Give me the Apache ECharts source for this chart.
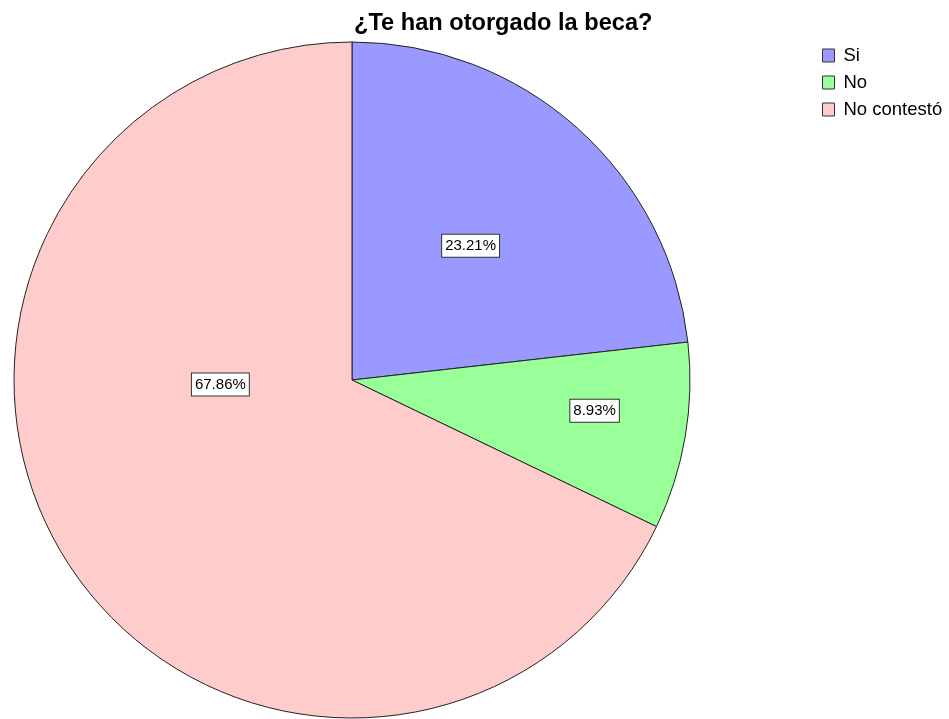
<!DOCTYPE html>
<html>
<head>
<meta charset="utf-8">
<script src="https://cdn.jsdelivr.net/npm/echarts@6/dist/echarts.min.js"></script>
<style>
  html, body { margin: 0; padding: 0; background: #fff; }
  #chart { width: 949px; height: 719px; }
</style>
</head>
<body>
<div id="chart"></div>
<script>
// Data
const categories = ["Si", "No", "No contestó"];
const percents = [23.21, 8.93, 67.86];
const colors = ["#9999ff", "#99ff99", "#ffcccc"];
// label nudges (px) from the default inside position
const labelShift = [[4, -6], [73, 2], [14, -87]];

var myChart = echarts.init(document.getElementById("chart"));

myChart.setOption({
  animation: false,
  title: {
    text: "¿Te han otorgado la beca?",
    left: 349,
    top: 6,
    textStyle: {
      fontFamily: "Liberation Sans, Arial, sans-serif",
      fontSize: 23.6,
      fontWeight: "bold",
      color: "#000"
    }
  },
  legend: {
    orient: "vertical",
    left: 817,
    top: 41,
    icon: "rect",
    itemWidth: 12,
    itemHeight: 13,
    itemGap: 8,
    data: categories,
    itemStyle: { borderColor: "#333", borderWidth: 1 },
    textStyle: {
      fontFamily: "Liberation Sans, Arial, sans-serif",
      fontSize: 18.5,
      lineHeight: 17,
      color: "#000",
      padding: [0, 0, 0, 4]
    }
  },
  series: [
    {
      type: "pie",
      center: [352, 380],
      radius: 338,
      startAngle: 90,
      clockwise: true,
      data: categories.map((name, i) => ({
        name: name,
        value: percents[i],
        itemStyle: { color: colors[i] }
      })),
      itemStyle: { borderColor: "#222", borderWidth: 1 },
      label: {
        show: true,
        position: "inside",
        formatter: (p) => p.value.toFixed(2) + "%",
        fontFamily: "Liberation Sans, Arial, sans-serif",
        fontSize: 15,
        color: "#000",
        backgroundColor: "#fff",
        borderColor: "#333",
        borderWidth: 1,
        padding: [4, 3, 3, 3]
      },
      labelLine: { show: false },
      emphasis: { disabled: true },
      labelLayout: function (params) {
        const s = labelShift[params.dataIndex];
        return { dx: s[0], dy: s[1] };
      }
    }
  ]
});
</script>
</body>
</html>
